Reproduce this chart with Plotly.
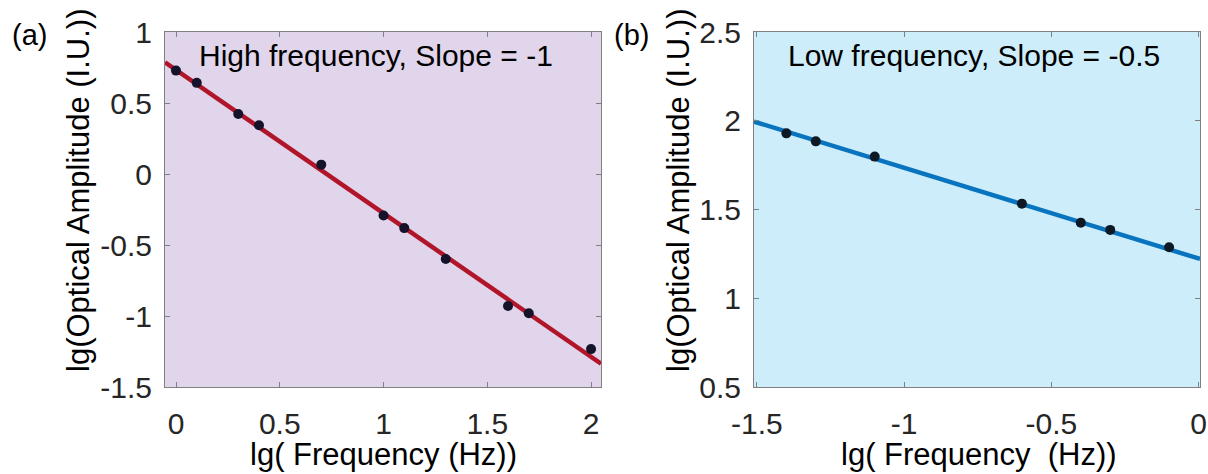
import plotly.graph_objects as go

# ---------------- data ----------------
# panel (a): high frequency
freq_a = [0.0, 0.1, 0.3, 0.4, 0.7, 1.0, 1.1, 1.3, 1.6, 1.7, 2.0]
amp_a = [0.728, 0.642, 0.423, 0.343, 0.066, -0.292, -0.381, -0.598, -0.929, -0.981, -1.233]
fit_slope_a = -1.01
fit_icpt_a = 0.733

# panel (b): low frequency
freq_b = [-1.4, -1.3, -1.1, -0.6, -0.4, -0.3, -0.1]
amp_b = [1.929, 1.884, 1.798, 1.533, 1.426, 1.385, 1.287]
fit_slope_b = -0.511
fit_icpt_b = 1.224

xticks_a = [0, 0.5, 1, 1.5, 2]
xtick_text_a = ["0", "0.5", "1", "1.5", "2"]
yticks_a = [-1.5, -1, -0.5, 0, 0.5, 1]
ytick_text_a = ["-1.5", "-1", "-0.5", "0", "0.5", "1"]
xticks_b = [-1.5, -1, -0.5, 0]
xtick_text_b = ["-1.5", "-1", "-0.5", "0"]
yticks_b = [0.5, 1, 1.5, 2, 2.5]
ytick_text_b = ["0.5", "1", "1.5", "2", "2.5"]

title_a = "High frequency, Slope = -1"
title_b = "Low frequency, Slope = -0.5"
xlabel_a = "lg( Frequency (Hz))"
xlabel_b = "lg( Frequency  (Hz))"
ylabel = "lg(Optical Amplitude (I.U.))"

# ---------------- layout constants ----------------
W, H = 1208, 474
FONT = "Liberation Sans, Arial, sans-serif"
xr_a = [-0.053, 2.048]
yr_a = [-1.5, 1.0]
xr_b = [-1.51, 0.005]
yr_b = [0.5, 2.5]
dom_a = [165 / W, 601 / W]
dom_b = [754 / W, 1200 / W]
dom_y = [1 - 387 / H, 1 - 32 / H]

fig = go.Figure()

# fit lines (through the axis range)
fx_a = [xr_a[0], xr_a[1]]
fig.add_trace(go.Scatter(x=fx_a, y=[fit_icpt_a + fit_slope_a * v for v in fx_a],
                         mode="lines", line=dict(color="#B0152A", width=4.5),
                         xaxis="x", yaxis="y", showlegend=False))
fig.add_trace(go.Scatter(x=freq_a, y=amp_a, mode="markers",
                         marker=dict(color="#14132B", size=10),
                         xaxis="x", yaxis="y", showlegend=False))

fx_b = [xr_b[0], xr_b[1]]
fig.add_trace(go.Scatter(x=fx_b, y=[fit_icpt_b + fit_slope_b * v for v in fx_b],
                         mode="lines", line=dict(color="#0873BF", width=4.5),
                         xaxis="x2", yaxis="y2", showlegend=False))
fig.add_trace(go.Scatter(x=freq_b, y=amp_b, mode="markers",
                         marker=dict(color="#0D1A26", size=10),
                         xaxis="x2", yaxis="y2", showlegend=False))

axis_common = dict(showgrid=False, zeroline=False, showline=True, linecolor="#808080",
                   linewidth=1, mirror="ticks", ticks="inside", ticklen=5,
                   tickcolor="#808080", automargin=False,
                   tickfont=dict(family=FONT, size=30, color="#262626"))

fig.update_layout(
    width=W, height=H, margin=dict(l=0, r=0, t=0, b=0),
    paper_bgcolor="white", plot_bgcolor="rgba(0,0,0,0)",
    font=dict(family=FONT),
    xaxis=dict(domain=dom_a, range=xr_a, anchor="y", tickvals=xticks_a, ticktext=xtick_text_a,
               ticklabelstandoff=10, **axis_common),
    yaxis=dict(domain=dom_y, range=yr_a, anchor="x", tickvals=yticks_a, ticktext=ytick_text_a,
               ticklabelstandoff=6, **axis_common),
    xaxis2=dict(domain=dom_b, range=xr_b, anchor="y2", tickvals=xticks_b, ticktext=xtick_text_b,
                ticklabelstandoff=10, **axis_common),
    yaxis2=dict(domain=dom_y, range=yr_b, anchor="x2", tickvals=yticks_b, ticktext=ytick_text_b,
                ticklabelstandoff=6, **axis_common),
    shapes=[
        dict(type="rect", xref="x domain", yref="y domain", x0=0, x1=1, y0=0, y1=1,
             fillcolor="#E1D5EB", line=dict(width=0), layer="below"),
        dict(type="rect", xref="x2 domain", yref="y2 domain", x0=0, x1=1, y0=0, y1=1,
             fillcolor="#CCEDF9", line=dict(width=0), layer="below"),
    ],
)

def px_x(p):
    return p / W

def px_y(p):
    return 1 - p / H

ann = [
    dict(text="(a)", x=px_x(29), y=px_y(35), size=29),
    dict(text="(b)", x=px_x(631), y=px_y(35), size=29),
    dict(text=title_a, x=px_x(376), y=px_y(55), size=30),
    dict(text=title_b, x=px_x(974), y=px_y(55), size=30),
    dict(text=xlabel_a, x=px_x(383), y=px_y(454), size=31),
    dict(text=xlabel_b, x=px_x(979), y=px_y(454), size=31),
    dict(text=ylabel, x=px_x(78), y=px_y(190), size=31, textangle=-90),
    dict(text=ylabel, x=px_x(678), y=px_y(190), size=31, textangle=-90),
]
for a in ann:
    size = a.pop("size")
    fig.add_annotation(xref="paper", yref="paper", xanchor="center", yanchor="middle",
                       showarrow=False, font=dict(family=FONT, size=size, color="#000000"), **a)

fig.write_html("out.html")
